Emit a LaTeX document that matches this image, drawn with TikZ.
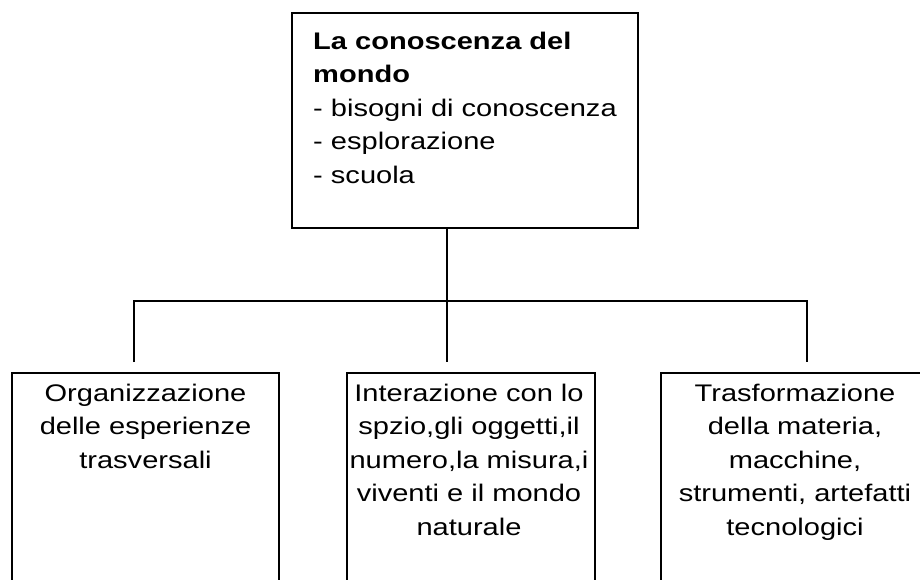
\documentclass[tikz,border=0pt]{standalone}
\usepackage{fontspec}
\setmainfont{Liberation Sans}
\tikzset{
  box/.style={draw, line width=1.5bp, inner sep=0pt},
  txt/.style={inner sep=0pt, font=\fontsize{24bp}{33.5bp}\selectfont, xscale=1.21},
  link/.style={line width=1.8bp, line join=miter}
}
\begin{document}
\begin{tikzpicture}[x=1bp,y=-1bp]
\useasboundingbox (0,0) rectangle (920,580);
\fill[white] (0,0) rectangle (920,580);
\clip (0,0) rectangle (920,580);
% top box
\node[box, line width=2bp, minimum width=346bp, minimum height=215bp] (top) at (465,120.5) {};
\node[txt, anchor=north west, align=left] (toptxt) at (313,29)
  {\rule{0pt}{20bp}\textbf{La conoscenza del}\\\textbf{mondo}\\- bisogni di conoscenza\\- esplorazione\\- scuola};
% bottom boxes
\node[box, minimum width=267bp, minimum height=227bp] (left) at (145.5,486.5) {};
\node[box, minimum width=248bp, minimum height=227bp] (mid) at (471,486.5) {};
\node[box, minimum width=268bp, minimum height=227bp] (right) at (795,486.5) {};
\node[txt, anchor=north, align=center] (lefttxt) at (145.5,381)
  {\rule{0pt}{20bp}Organizzazione\\delle esperienze\\trasversali};
\node[txt, anchor=north, align=center] (midtxt) at (469,381)
  {\rule{0pt}{20bp}Interazione con lo\\spzio,gli oggetti,il\\numero,la misura,i\\viventi e il mondo\\naturale};
\node[txt, anchor=north, align=center] (righttxt) at (795,381)
  {\rule{0pt}{20bp}Trasformazione\\della materia,\\macchine,\\strumenti, artefatti\\tecnologici};
% connectors
\coordinate (jL) at (134,301);
\coordinate (jM) at (447,301);
\coordinate (jR) at (807,301);
\coordinate (dL) at (134,362);
\coordinate (dM) at (447,362);
\coordinate (dR) at (807,362);
\draw[link] (top.south -| jM) -- (jM);
\draw[link] (dL) -- (jL) -- (jR) -- (dR);
\draw[link] (jM) -- (dM);
\end{tikzpicture}
\end{document}
